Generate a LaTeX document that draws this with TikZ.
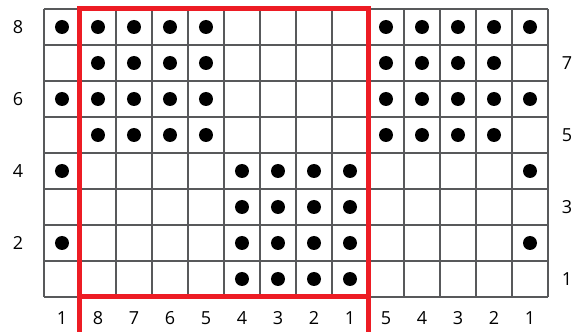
\documentclass[tikz,border=0pt]{standalone}
\usepackage{fontspec}
\setmainfont{Open Sans}
\usetikzlibrary{positioning}
\definecolor{gridgray}{HTML}{58595B}
\definecolor{repred}{HTML}{ED1C24}
\tikzset{
  cell/.style   = {draw=gridgray, line width=1pt},
  stitch/.style = {fill=black},
  num/.style    = {font=\fontsize{9}{10}\selectfont, inner sep=0pt},
  repbox/.style = {draw=repred, line width=2.5pt},
}

\begin{document}
\begin{tikzpicture}[x=18pt, y=18pt]
  \useasboundingbox (-1.2222,-0.9722) rectangle (14.8611,8.25);

  % chart grid
  \draw[cell] (0,0) grid[step={(1,1)}] (14,8);

  % purl dots, row by row
  \foreach \r/\cols in {8/{0,1,2,3,4,9,10,11,12,13}, 7/{1,2,3,4,9,10,11,12},
                        6/{0,1,2,3,4,9,10,11,12,13}, 5/{1,2,3,4,9,10,11,12},
                        4/{0,5,6,7,8,13}, 3/{5,6,7,8},
                        2/{0,5,6,7,8,13}, 1/{5,6,7,8}}
    \foreach \c in \cols
      \fill[stitch] (\c+0.5,\r-0.5) circle[radius=3.5pt];

  % row numbers
  \foreach \r in {8,6,4,2}
    \node[num] (rl\r) at (-0.722,\r-0.5) {\r};
  \foreach \r in {7,5,3,1}
    \node[num] (rr\r) at (14.53,\r-0.5) {\r};

  % stitch numbers
  \node[num] (s0) at (0.5,-0.583) {1};
  \foreach \c [evaluate=\c as \n using int(9-\c)] in {1,...,8}
    \node[num] (s\c) at (\c+0.5,-0.583) {\n};
  \foreach \c [evaluate=\c as \n using int(14-\c)] in {9,...,13}
    \node[num] (s\c) at (\c+0.5,-0.583) {\n};

  % pattern repeat
  \coordinate (repL) at (1,-0.9722);
  \coordinate (repR) at (9,-0.9722);
  \draw[repbox] (repL) -- (1,8) -- (9,8) -- (repR);
  \draw[repbox] (1,0) -- (9,0);
\end{tikzpicture}
\end{document}
